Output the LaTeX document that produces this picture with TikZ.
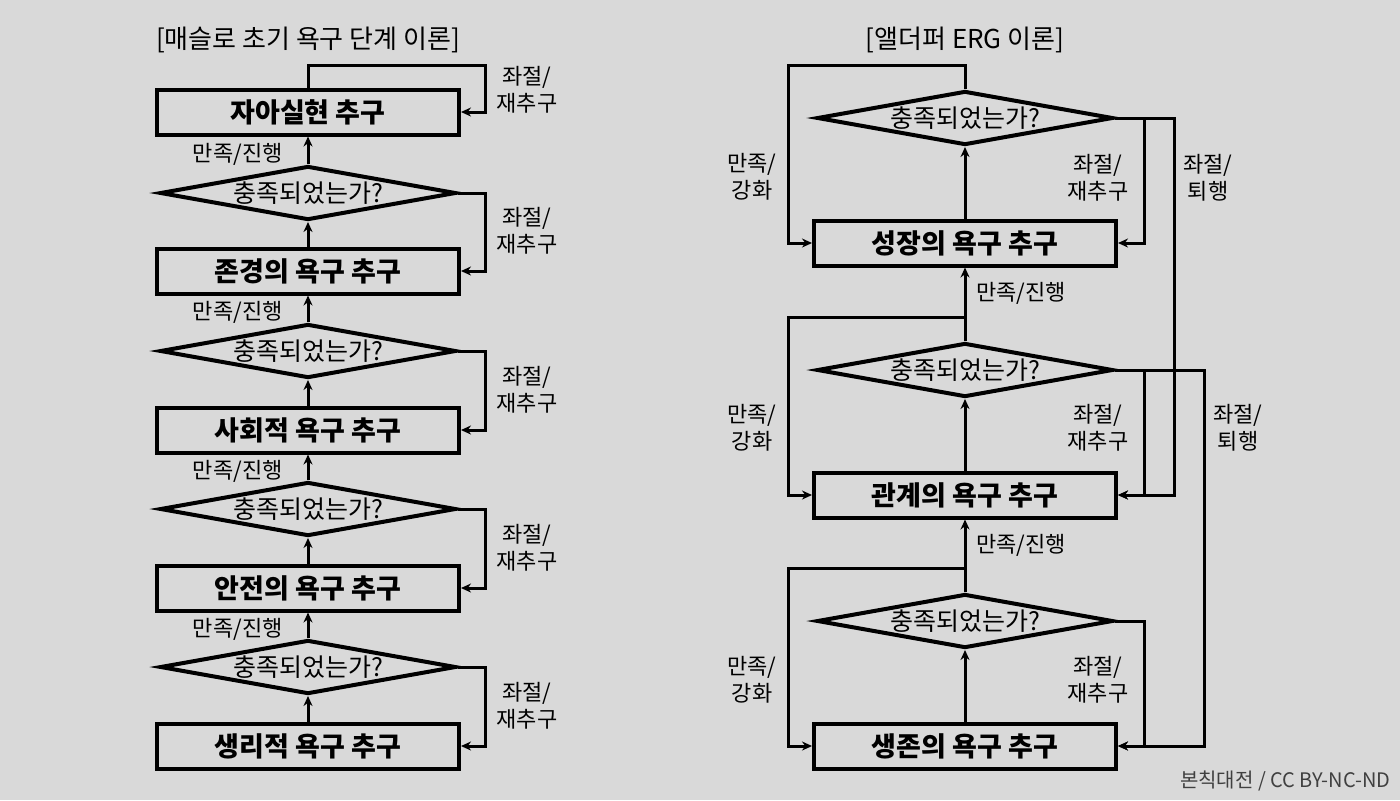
\documentclass[tikz,border=0pt]{standalone}
\usepackage{fontspec}
\setmainfont{Noto Sans CJK KR}
\usepackage{tikz}
\usetikzlibrary{arrows.meta,shapes.geometric}
\definecolor{bggray}{RGB}{217,217,217}

\begin{document}
\begin{tikzpicture}[x=0.5pt, y=-0.5pt, >={Stealth[length=5pt,width=4.5pt]},
    needbox/.style={draw, line width=2pt, minimum width=151pt, minimum height=22.5pt, inner sep=0pt,
        font=\fontsize{13.5}{16}\selectfont\bfseries},
    check/.style={diamond, aspect=5.48, draw, line width=2pt, minimum width=148pt, minimum height=27pt, inner sep=0pt,
        font=\fontsize{12.5}{14}\selectfont},
    flow/.style={line width=1.5pt, ->},
    tag/.style={font=\fontsize{11}{13.5}\selectfont, align=center, inner sep=0pt},
    heading/.style={font=\fontsize{13}{15}\selectfont}]
    \fill[bggray] (0,0) rectangle (1400,800);

    % Maslow
    \node[heading] (maslowtitle) at (308,40) {[매슬로 초기 욕구 단계 이론]};
    \node[needbox] (self) at (308,112) {자아실현 추구};
    \node[check] (q4) at (308,193) {충족되었는가?};
    \node[needbox] (esteem) at (308,271) {존경의 욕구 추구};
    \node[check] (q3) at (308,351) {충족되었는가?};
    \node[needbox] (social) at (308,430) {사회적 욕구 추구};
    \node[check] (q2) at (308,509) {충족되었는가?};
    \node[needbox] (safety) at (308,588) {안전의 욕구 추구};
    \node[check] (q1) at (308,667) {충족되었는가?};
    \node[needbox] (body) at (308,746) {생리적 욕구 추구};

    \draw[flow] (body) -- (q1);
    \draw[flow] (q1) -- (safety) node[tag, pos=0.35, left=12pt] {만족/진행};
    \draw[flow] (safety) -- (q2);
    \draw[flow] (q2) -- (social) node[tag, pos=0.35, left=12pt] {만족/진행};
    \draw[flow] (social) -- (q3);
    \draw[flow] (q3) -- (esteem) node[tag, pos=0.35, left=12pt] {만족/진행};
    \draw[flow] (esteem) -- (q4);
    \draw[flow] (q4) -- (self) node[tag, pos=0.35, left=12pt] {만족/진행};

    \draw[flow] (self.north) -- ++(0,-22) -| ([xshift=12pt]self.east) -- (self.east);
    \draw[flow] (q4.east) -- ++(27,0) |- (esteem.east);
    \draw[flow] (q3.east) -- ++(27,0) |- (social.east);
    \draw[flow] (q2.east) -- ++(27,0) |- (safety.east);
    \draw[flow] (q1.east) -- ++(27,0) |- (body.east);

    \node[tag] (retry5) at (527,90) {좌절/\\재추구};
    \node[tag] (retry4) at (527,231) {좌절/\\재추구};
    \node[tag] (retry3) at (527,390) {좌절/\\재추구};
    \node[tag] (retry2) at (527,548) {좌절/\\재추구};
    \node[tag] (retry1) at (527,706) {좌절/\\재추구};

    % Alderfer
    \node[heading] (ergtitle) at (965,40) {[앨더퍼 ERG 이론]};
    \node[check] (c3) at (965,118) {충족되었는가?};
    \node[needbox] (grow) at (965,243) {성장의 욕구 추구};
    \node[check] (c2) at (965,370) {충족되었는가?};
    \node[needbox] (relate) at (965,495) {관계의 욕구 추구};
    \node[check] (c1) at (965,621) {충족되었는가?};
    \node[needbox] (exist) at (965,746) {생존의 욕구 추구};

    \draw[flow] (exist) -- (c1);
    \draw[flow] (c1) -- (relate) node[tag, pos=0.65, right=5pt] {만족/진행};
    \draw[flow] (relate) -- (c2);
    \draw[flow] (c2) -- (grow) node[tag, pos=0.65, right=5pt] {만족/진행};
    \draw[flow] (grow) -- (c3);

    \draw[flow] (c3.north) -- ++(0,-24) -| ([xshift=-12pt]grow.west) -- (grow.west);
    \draw[flow] (c2.north) -- ++(0,-24) -| ([xshift=-12pt]relate.west) -- (relate.west);
    \draw[flow] (c1.north) -- ++(0,-24) -| ([xshift=-12pt]exist.west) -- (exist.west);

    \draw[flow] (c3.east) -- ++(29,0) |- (grow.east);
    \draw[flow] (c3.east) -- ++(59,0) |- (relate.east);
    \draw[flow] (c2.east) -- ++(29,0) |- (relate.east);
    \draw[flow] (c2.east) -- ++(89,0) |- (exist.east);
    \draw[flow] (c1.east) -- ++(29,0) |- (exist.east);

    \node[tag] (keep3) at (752,177) {만족/\\강화};
    \node[tag] (keep2) at (752,428) {만족/\\강화};
    \node[tag] (keep1) at (752,680) {만족/\\강화};
    \node[tag] (again3) at (1098,178) {좌절/\\재추구};
    \node[tag] (again2) at (1098,428) {좌절/\\재추구};
    \node[tag] (again1) at (1098,680) {좌절/\\재추구};
    \node[tag] (back3) at (1208,178) {좌절/\\퇴행};
    \node[tag] (back2) at (1238,428) {좌절/\\퇴행};

    \node[anchor=east, inner sep=0pt, font=\fontsize{10}{12}\selectfont, text=black!75] (credit) at (1391,781) {본칙대전 / CC BY-NC-ND};
\end{tikzpicture}
\end{document}
